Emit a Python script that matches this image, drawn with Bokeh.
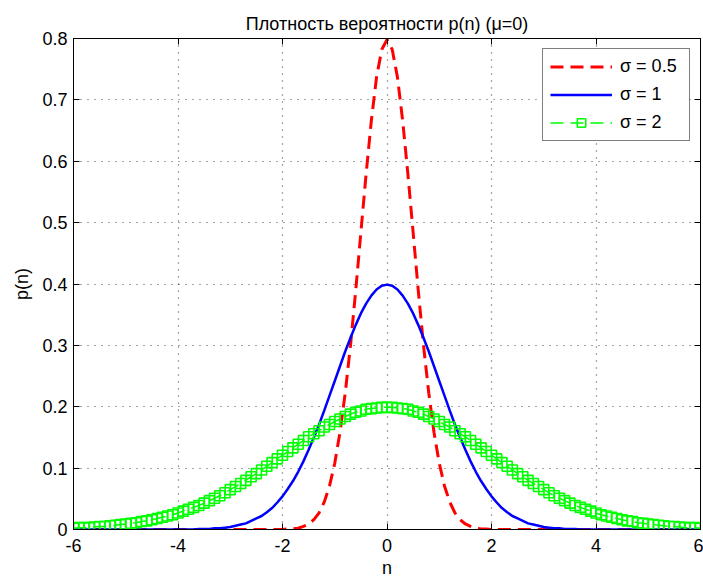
from bokeh.plotting import figure
from bokeh.models import LinearAxis, FixedTicker, Range1d, ColumnDataSource
from bokeh.embed import file_html
from bokeh.resources import INLINE

# sample points n = -6 .. 6, step 0.1
n = [-6.0, -5.9, -5.8, -5.7, -5.6, -5.5, -5.4, -5.3, -5.2, -5.1,
     -5.0, -4.9, -4.8, -4.7, -4.6, -4.5, -4.4, -4.3, -4.2, -4.1,
     -4.0, -3.9, -3.8, -3.7, -3.6, -3.5, -3.4, -3.3, -3.2, -3.1,
     -3.0, -2.9, -2.8, -2.7, -2.6, -2.5, -2.4, -2.3, -2.2, -2.1,
     -2.0, -1.9, -1.8, -1.7, -1.6, -1.5, -1.4, -1.3, -1.2, -1.1,
     -1.0, -0.9, -0.8, -0.7, -0.6, -0.5, -0.4, -0.3, -0.2, -0.1,
     0.0,
     0.1, 0.2, 0.3, 0.4, 0.5, 0.6, 0.7, 0.8, 0.9, 1.0,
     1.1, 1.2, 1.3, 1.4, 1.5, 1.6, 1.7, 1.8, 1.9, 2.0,
     2.1, 2.2, 2.3, 2.4, 2.5, 2.6, 2.7, 2.8, 2.9, 3.0,
     3.1, 3.2, 3.3, 3.4, 3.5, 3.6, 3.7, 3.8, 3.9, 4.0,
     4.1, 4.2, 4.3, 4.4, 4.5, 4.6, 4.7, 4.8, 4.9, 5.0,
     5.1, 5.2, 5.3, 5.4, 5.5, 5.6, 5.7, 5.8, 5.9, 6.0]

# sigma = 0.5
p_s05 = [0, 0, 0, 0, 0, 0, 0, 0, 0, 0,
         0, 0, 0, 0, 0, 0, 0, 0, 0, 0,
         0, 0, 0, 0, 0, 0, 0, 0, 0, 0,
         0, 0, 0, 0, 0, 0, 0, 0, 0, 0,
         0, 0.001, 0.001, 0.002, 0.005, 0.009, 0.016, 0.027, 0.045, 0.071,
         0.108, 0.158, 0.222, 0.299, 0.388, 0.484, 0.579, 0.666, 0.737, 0.782,
         0.798,
         0.782, 0.737, 0.666, 0.579, 0.484, 0.388, 0.299, 0.222, 0.158, 0.108,
         0.071, 0.045, 0.027, 0.016, 0.009, 0.005, 0.002, 0.001, 0.001, 0,
         0, 0, 0, 0, 0, 0, 0, 0, 0, 0,
         0, 0, 0, 0, 0, 0, 0, 0, 0, 0,
         0, 0, 0, 0, 0, 0, 0, 0, 0, 0,
         0, 0, 0, 0, 0, 0, 0, 0, 0, 0]

# sigma = 1
p_s1 = [0, 0, 0, 0, 0, 0, 0, 0, 0, 0,
        0, 0, 0, 0, 0, 0, 0, 0, 0, 0,
        0, 0, 0, 0, 0.001, 0.001, 0.001, 0.002, 0.002, 0.003,
        0.004, 0.006, 0.008, 0.010, 0.014, 0.018, 0.022, 0.028, 0.035, 0.044,
        0.054, 0.066, 0.079, 0.094, 0.111, 0.130, 0.150, 0.171, 0.194, 0.218,
        0.242, 0.266, 0.290, 0.312, 0.333, 0.352, 0.368, 0.381, 0.391, 0.397,
        0.399,
        0.397, 0.391, 0.381, 0.368, 0.352, 0.333, 0.312, 0.290, 0.266, 0.242,
        0.218, 0.194, 0.171, 0.150, 0.130, 0.111, 0.094, 0.079, 0.066, 0.054,
        0.044, 0.035, 0.028, 0.022, 0.018, 0.014, 0.010, 0.008, 0.006, 0.004,
        0.003, 0.002, 0.002, 0.001, 0.001, 0.001, 0, 0, 0, 0,
        0, 0, 0, 0, 0, 0, 0, 0, 0, 0,
        0, 0, 0, 0, 0, 0, 0, 0, 0, 0]

# sigma = 2
p_s2 = [0.002, 0.003, 0.003, 0.003, 0.004, 0.005, 0.005, 0.006, 0.007, 0.008,
        0.009, 0.010, 0.011, 0.013, 0.014, 0.016, 0.018, 0.020, 0.022, 0.024,
        0.027, 0.030, 0.033, 0.036, 0.039, 0.043, 0.047, 0.051, 0.055, 0.060,
        0.065, 0.070, 0.075, 0.080, 0.086, 0.091, 0.097, 0.103, 0.109, 0.115,
        0.121, 0.127, 0.133, 0.139, 0.145, 0.151, 0.156, 0.161, 0.167, 0.171,
        0.176, 0.180, 0.184, 0.188, 0.191, 0.193, 0.196, 0.197, 0.198, 0.199,
        0.199,
        0.199, 0.198, 0.197, 0.196, 0.193, 0.191, 0.188, 0.184, 0.180, 0.176,
        0.171, 0.167, 0.161, 0.156, 0.151, 0.145, 0.139, 0.133, 0.127, 0.121,
        0.115, 0.109, 0.103, 0.097, 0.091, 0.086, 0.080, 0.075, 0.070, 0.065,
        0.060, 0.055, 0.051, 0.047, 0.043, 0.039, 0.036, 0.033, 0.030, 0.027,
        0.024, 0.022, 0.020, 0.018, 0.016, 0.014, 0.013, 0.011, 0.010, 0.009,
        0.008, 0.007, 0.006, 0.005, 0.005, 0.004, 0.003, 0.003, 0.003, 0.002]

x_ticks = [-6, -4, -2, 0, 2, 4, 6]
x_tick_labels = ["-6", "-4", "-2", "0", "2", "4", "6"]
y_ticks = [0, 0.1, 0.2, 0.3, 0.4, 0.5, 0.6, 0.7, 0.8]
y_tick_labels = ["0", "0.1", "0.2", "0.3", "0.4", "0.5", "0.6", "0.7", "0.8"]

FONT = "Liberation Sans"
FS = "18px"

src = ColumnDataSource(dict(n=n, a=p_s05, b=p_s1, c=p_s2))

p = figure(width=703, height=581, output_backend="svg", toolbar_location=None,
           x_range=Range1d(-6, 6), y_range=Range1d(0, 0.8),
           title="Плотность вероятности p(n) (μ=0)",
           x_axis_label="n", y_axis_label="p(n)",
           min_border_left=73, min_border_right=3,
           min_border_top=38, min_border_bottom=52)

p.background_fill_color = "white"
p.border_fill_color = "white"
p.outline_line_color = "black"
p.outline_line_width = 1

p.title.text_font = FONT
p.title.text_font_size = FS
p.title.text_font_style = "normal"
p.title.text_color = "black"
p.title.align = "center"
p.title.standoff = 10

for ax, ticks, labels in ((p.xaxis[0], x_ticks, x_tick_labels),
                          (p.yaxis[0], y_ticks, y_tick_labels)):
    ax.ticker = FixedTicker(ticks=ticks)
    ax.major_label_overrides = dict(zip(ticks, labels))
    ax.minor_tick_line_color = None
    ax.major_tick_in = 6
    ax.major_tick_out = 0
    ax.axis_line_color = "black"
    ax.major_tick_line_color = "black"
    ax.major_label_text_font = FONT
    ax.major_label_text_font_size = FS
    ax.major_label_text_color = "black"
    ax.axis_label_text_font = FONT
    ax.axis_label_text_font_size = FS
    ax.axis_label_text_font_style = "normal"
    ax.axis_label_text_color = "black"

p.xaxis[0].major_label_standoff = 9
p.xaxis[0].axis_label_standoff = 3
p.yaxis[0].major_label_standoff = 6
p.yaxis[0].axis_label_standoff = 7

# tick marks on the top and right edges of the box: drawn as minor ticks,
# so these axes carry no labels at all
for loc, ticks in (("above", x_ticks), ("right", y_ticks)):
    ax = LinearAxis(ticker=FixedTicker(ticks=[], minor_ticks=ticks))
    ax.major_tick_line_color = None
    ax.minor_tick_line_color = "black"
    ax.minor_tick_in = 6
    ax.minor_tick_out = 0
    ax.major_label_standoff = 0
    ax.axis_line_color = "black"
    p.add_layout(ax, loc)

p.xgrid[0].ticker = FixedTicker(ticks=x_ticks)
p.ygrid[0].ticker = FixedTicker(ticks=y_ticks)
p.grid.grid_line_color = "#222222"
p.grid.grid_line_dash = "1 6"
p.grid.grid_line_width = 1.2
p.grid.grid_line_alpha = 0.8

p.line("n", "a", source=src, color="#ff0000", line_width=3, line_dash="13 7",
       legend_label="σ = 0.5")
p.line("n", "b", source=src, color="#0000ff", line_width=2.5,
       legend_label="σ = 1")
p.line("n", "c", source=src, color="#00ff00", line_width=1.5, line_dash="13 7",
       legend_label="σ = 2")
p.scatter("n", "c", source=src, marker="square", size=10, line_color="#00ff00",
          line_width=1.6, fill_color=None, legend_label="σ = 2")

lg = p.legend[0]
lg.location = "top_right"
lg.margin = 10
lg.border_line_color = "black"
lg.border_line_width = 1
lg.background_fill_color = "white"
lg.background_fill_alpha = 1
lg.label_text_font = FONT
lg.label_text_font_size = FS
lg.label_text_color = "black"
lg.glyph_width = 62
lg.glyph_height = 21
lg.label_standoff = 8
lg.label_width = 62
lg.padding = 7
lg.spacing = 7

open("out.html", "w").write(file_html(p, INLINE))
